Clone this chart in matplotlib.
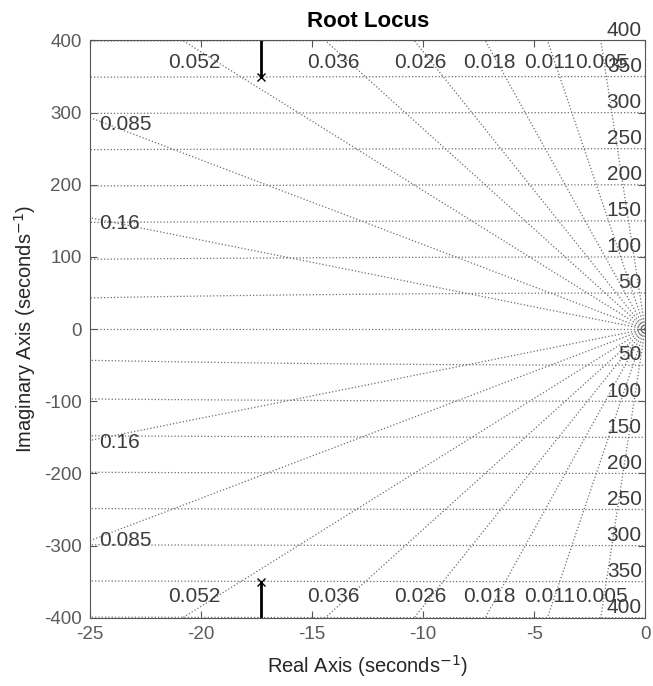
import numpy as np
import matplotlib
matplotlib.use("Agg")
import matplotlib.pyplot as plt

plt.rcParams['font.family'] = ['Liberation Sans', 'DejaVu Sans']
plt.rcParams['axes.unicode_minus'] = False

# damping ratios and natural frequencies of the s-grid
zeta = [0.005, 0.011, 0.018, 0.026, 0.036, 0.052, 0.085, 0.16]
wn = [50, 100, 150, 200, 250, 300, 350, 400]

# open loop poles and the vertical locus branches
pole_re = [-17.3, -17.3]
pole_im = [350, -350]
branch_end = [420, -420]

gridc = '#6e6e6e'
txtc = '#3c3c3c'

fig = plt.figure(figsize=(6.53, 6.86), dpi=100)
ax = fig.add_axes([0.138, 0.0995, 0.850, 0.8415])

# damping lines from the origin
for z in zeta:
    slope = np.sqrt(1 - z**2) / z
    xs = np.array([0, -60])
    for sgn in (1, -1):
        ax.plot(xs, -sgn * slope * xs, ls=':', color=gridc, lw=0.9)

# natural frequency circles
th = np.linspace(np.pi / 2, 3 * np.pi / 2, 4000)
for w in wn:
    ax.plot(w * np.cos(th), w * np.sin(th), ls=':', color=gridc, lw=0.9)
ax.plot([-25, 0], [0, 0], ls=':', color=gridc, lw=0.9)

# damping labels
for z in zeta:
    slope = np.sqrt(1 - z**2) / z
    xl = -390 / slope
    for sgn in (1, -1):
        if xl > -23:
            ax.text(xl, sgn * 370, '%g' % z, ha='center', va='center',
                    fontsize=15, color=txtc)
        else:
            ax.text(-24.6, sgn * 24.6 * slope - 5, '%g' % z, ha='left',
                    va='center', fontsize=15, color=txtc)

# frequency labels
for w in wn:
    for sgn in (1, -1):
        ax.text(-0.15, sgn * w + 1, '%d' % w, ha='right', va='bottom',
                fontsize=15, color=txtc, clip_on=False)

# locus
for re, im, end in zip(pole_re, pole_im, branch_end):
    ax.plot([re, re], [im, end], color='black', lw=2)
ax.plot(pole_re, pole_im, 'x', color='black', ms=6, mew=1)

ax.set_xlim(-25, 0)
ax.set_ylim(-400, 400)
ax.set_xticks([-25, -20, -15, -10, -5, 0])
ax.set_yticks(np.arange(-400, 401, 100))
ax.tick_params(direction='in', top=True, right=True, labelsize=13.5,
               labelcolor='#5a5a5a', color='#555555', length=5, pad=6)
for s in ax.spines.values():
    s.set_color('#555555')
ax.set_xlabel('Real Axis (seconds$^{-1}$)', fontsize=14.5, color='#262626',
              labelpad=7)
ax.set_ylabel('Imaginary Axis (seconds$^{-1}$)', fontsize=14.5, color='#262626',
              labelpad=4)
ax.set_title('Root Locus', fontsize=16, fontweight='bold', pad=10)

fig.savefig('out.png', dpi=100)
